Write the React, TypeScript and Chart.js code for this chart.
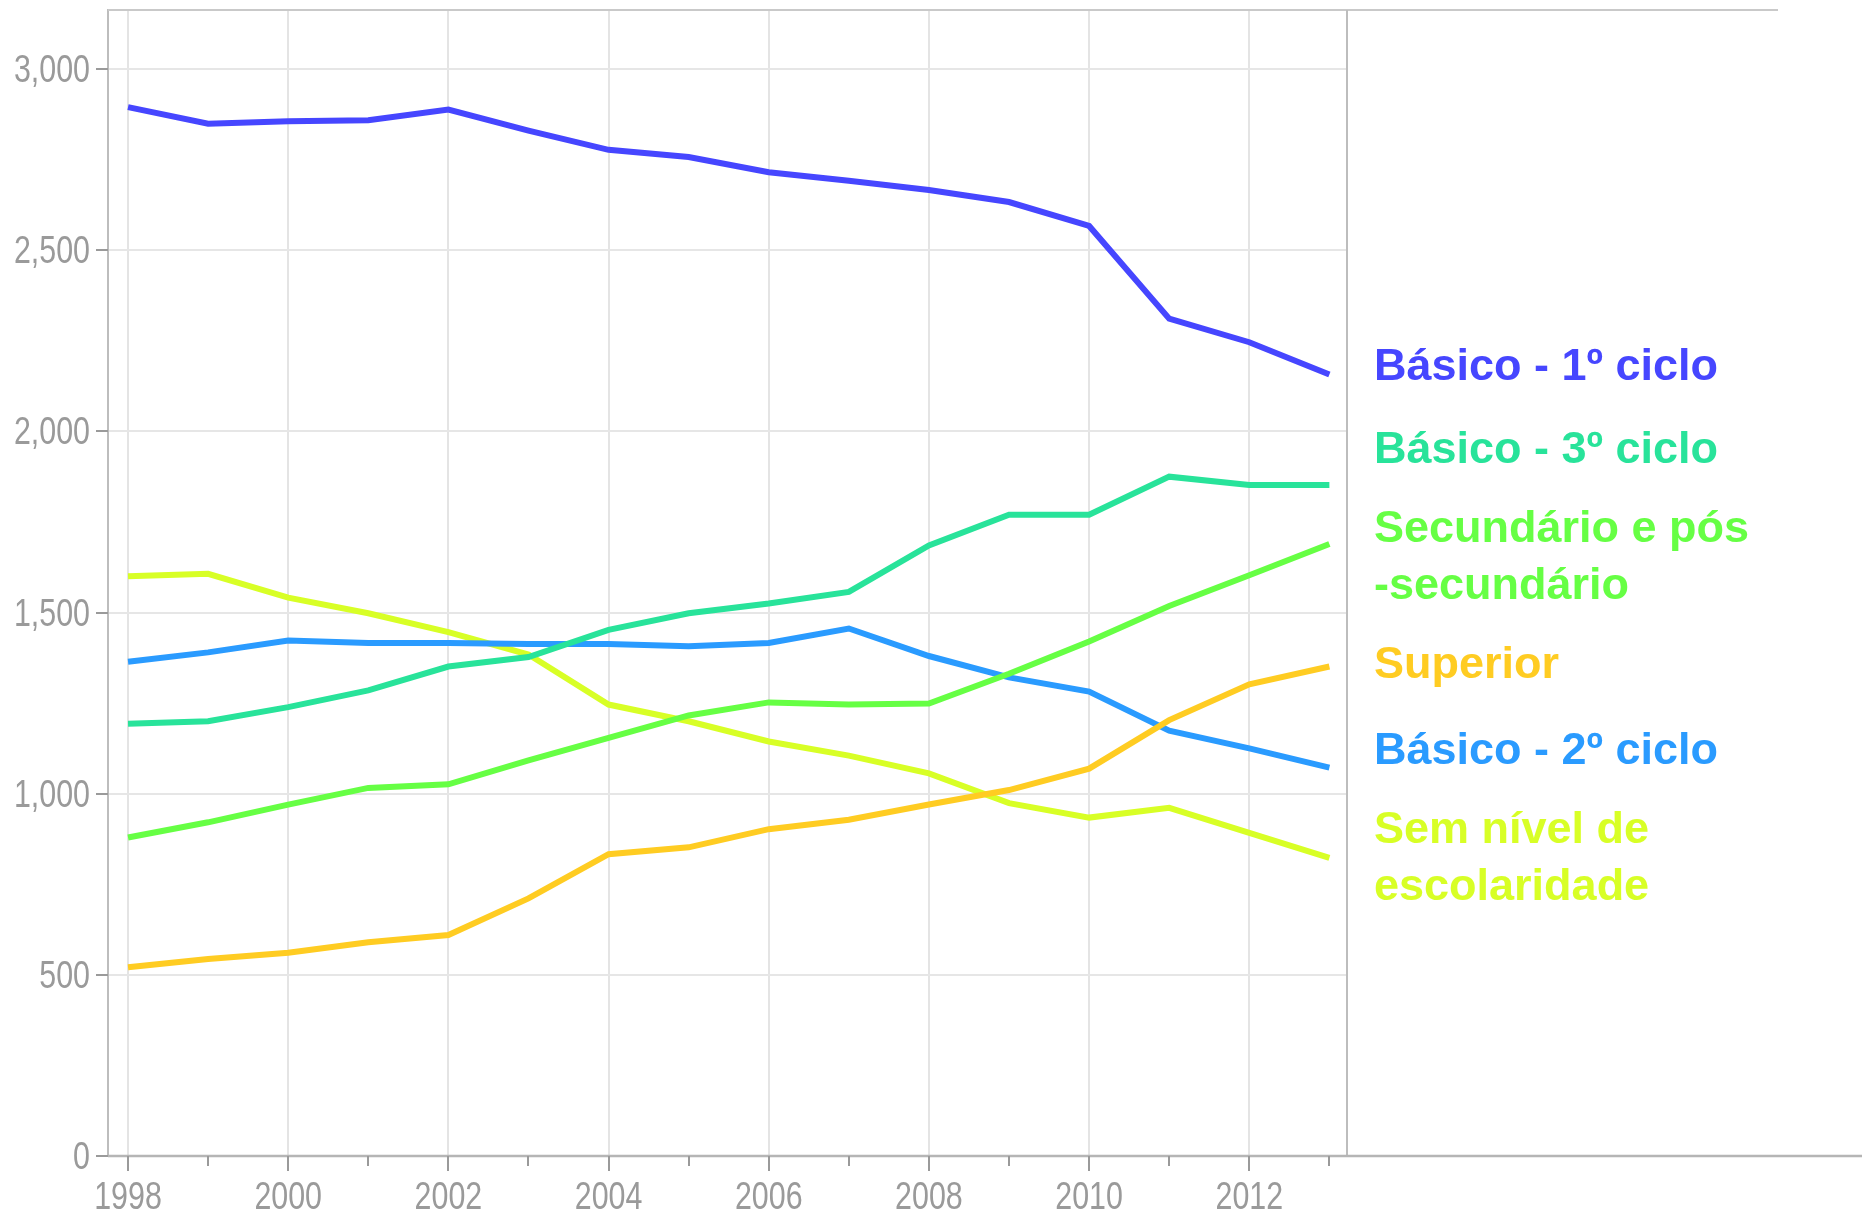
import React, { useEffect, useRef } from "react";
import { Chart, registerables } from "chart.js";

Chart.register(...registerables);

const years = [1998, 1999, 2000, 2001, 2002, 2003, 2004, 2005, 2006, 2007, 2008, 2009, 2010, 2011, 2012, 2013];

const basico1 = [2895, 2849, 2856, 2859, 2888, 2830, 2777, 2757, 2715, 2692, 2666, 2633, 2567, 2311, 2246, 2157];
const basico3 = [1193, 1200, 1239, 1285, 1351, 1377, 1452, 1498, 1525, 1557, 1685, 1770, 1770, 1875, 1852, 1852];
const secundario = [879, 921, 970, 1016, 1026, 1092, 1154, 1216, 1252, 1246, 1249, 1331, 1420, 1518, 1603, 1689];
const superior = [521, 544, 561, 590, 610, 711, 833, 852, 902, 928, 970, 1010, 1069, 1203, 1302, 1351];
const basico2 = [1364, 1390, 1423, 1416, 1416, 1413, 1413, 1407, 1416, 1456, 1380, 1321, 1282, 1174, 1125, 1072];
const semNivel = [1600, 1607, 1541, 1498, 1446, 1384, 1246, 1200, 1144, 1105, 1056, 974, 934, 961, 892, 823];

const seriesNames = [
  "Básico - 1º ciclo",
  "Básico - 3º ciclo",
  "Secundário e pós-secundário",
  "Superior",
  "Básico - 2º ciclo",
  "Sem nível de escolaridade",
];
const seriesLabelLines = [
  ["Básico - 1º ciclo"],
  ["Básico - 3º ciclo"],
  ["Secundário e pós", "-secundário"],
  ["Superior"],
  ["Básico - 2º ciclo"],
  ["Sem nível de", "escolaridade"],
];
const seriesValues = [basico1, basico3, secundario, superior, basico2, semNivel];
const seriesColors = ["#4646ff", "#28e39a", "#66ff44", "#ffcc22", "#2a9bff", "#d8ff26"];

const yTicks = [0, 500, 1000, 1500, 2000, 2500, 3000];
const xLabelYears = [1998, 2000, 2002, 2004, 2006, 2008, 2010, 2012];

const W = 1862;
const H = 1215;

export default function App() {
  const ref = useRef<HTMLCanvasElement | null>(null);

  useEffect(() => {
    const canvas = ref.current;
    if (!canvas) return;

    const drawNarrow = (ctx: any, text: string, x: number, y: number, align: string) => {
      const sx = 0.8;
      ctx.save();
      ctx.translate(x, y);
      ctx.scale(sx, 1);
      ctx.textAlign = align;
      ctx.fillText(text, 0, 0);
      ctx.restore();
    };

    const decorPlugin = {
      id: "decor",
      beforeDatasetsDraw(chart: any) {
        const { ctx, chartArea } = chart;
        const xs = chart.scales.x;
        const ys = chart.scales.y;
        ctx.save();
        ctx.lineCap = "butt";
        ctx.strokeStyle = "#c9c9c9";
        ctx.lineWidth = 2;
        ctx.beginPath();
        ctx.moveTo(chartArea.left, chartArea.top);
        ctx.lineTo(1778, chartArea.top);
        ctx.stroke();
        ctx.strokeStyle = "#bdbdbd";
        ctx.beginPath();
        ctx.moveTo(chartArea.right, chartArea.top);
        ctx.lineTo(chartArea.right, chartArea.bottom);
        ctx.stroke();
        ctx.strokeStyle = "#b5b5b5";
        ctx.lineWidth = 2.5;
        ctx.beginPath();
        ctx.moveTo(chartArea.left, chartArea.bottom);
        ctx.lineTo(W, chartArea.bottom);
        ctx.stroke();
        ctx.strokeStyle = "#9a9a9a";
        ctx.lineWidth = 2;
        years.forEach((yr) => {
          const px = Math.round(xs.getPixelForValue(yr));
          const len = yr % 2 === 0 ? 15 : 10;
          ctx.beginPath();
          ctx.moveTo(px, chartArea.bottom);
          ctx.lineTo(px, chartArea.bottom + len);
          ctx.stroke();
        });
        yTicks.forEach((v) => {
          const py = Math.round(ys.getPixelForValue(v));
          ctx.beginPath();
          ctx.moveTo(chartArea.left - 12, py);
          ctx.lineTo(chartArea.left, py);
          ctx.stroke();
        });
        ctx.fillStyle = "#9a9a9a";
        ctx.font = "38px 'Liberation Sans', Arial, sans-serif";
        ctx.textBaseline = "alphabetic";
        yTicks.forEach((v) => {
          const py = ys.getPixelForValue(v);
          drawNarrow(ctx, v.toLocaleString("en-US"), chartArea.left - 18, py + 13, "right");
        });
        xLabelYears.forEach((yr) => {
          const px = xs.getPixelForValue(yr);
          drawNarrow(ctx, String(yr), px, 1209, "center");
        });
        ctx.restore();
      },
      afterDatasetsDraw(chart: any) {
        const { ctx, chartArea } = chart;
        const ys = chart.scales.y;
        const lineH = 57;
        const gap = 22;
        const items = seriesValues.map((vals, i) => {
          const lines = seriesLabelLines[i];
          return {
            i,
            lines,
            h: lines.length * lineH + gap,
            target: ys.getPixelForValue(vals[vals.length - 1]),
          };
        });
        items.sort((a, b) => a.target - b.target);
        type Cl = { items: typeof items; top: number; height: number };
        const clusters: Cl[] = [];
        const fit = (c: Cl) => {
          let off = 0;
          let sum = 0;
          c.items.forEach((it) => {
            sum += it.target - off - it.h / 2;
            off += it.h;
          });
          c.height = off;
          c.top = sum / c.items.length;
        };
        items.forEach((it) => {
          const c: Cl = { items: [it], top: 0, height: 0 };
          fit(c);
          clusters.push(c);
          while (clusters.length > 1) {
            const a = clusters[clusters.length - 2];
            const b = clusters[clusters.length - 1];
            if (a.top + a.height > b.top) {
              const m: Cl = { items: [...a.items, ...b.items], top: 0, height: 0 };
              fit(m);
              clusters.splice(clusters.length - 2, 2, m);
            } else break;
          }
        });
        ctx.save();
        ctx.font = "bold 45px 'Liberation Sans', Arial, sans-serif";
        ctx.textAlign = "left";
        ctx.textBaseline = "middle";
        const x = chartArea.right + 27;
        const visualShift = -7;
        clusters.forEach((c) => {
          let off = c.top;
          c.items.forEach((it) => {
            const center = off + it.h / 2;
            ctx.fillStyle = seriesColors[it.i];
            const n = it.lines.length;
            it.lines.forEach((ln, k) => {
              const yy = center + (k - (n - 1) / 2) * lineH + visualShift;
              ctx.fillText(ln, x, yy);
            });
            off += it.h;
          });
        });
        ctx.restore();
      },
    };

    const chart = new Chart(canvas, {
      type: "line",
      data: {
        datasets: seriesValues.map((vals, i) => ({
          label: seriesNames[i],
          data: vals.map((v, k) => ({ x: years[k], y: v })),
          borderColor: seriesColors[i],
          backgroundColor: seriesColors[i],
          borderWidth: 6,
          pointRadius: 0,
          tension: 0,
          fill: false,
        })),
      },
      options: {
        animation: false,
        responsive: false,
        devicePixelRatio: 1,
        layout: { padding: { left: 0, right: W - 1347, top: 10, bottom: 0 } },
        plugins: {
          legend: { display: false },
          tooltip: { enabled: false },
          title: { display: false },
        },
        scales: {
          x: {
            type: "linear",
            min: 1997.75,
            max: 2013.22,
            afterBuildTicks(scale: any) {
              scale.ticks = years.map((v) => ({ value: v }));
            },
            afterFit(scale: any) {
              scale.height = H - 1156;
              scale.paddingLeft = 0;
              scale.paddingRight = 0;
            },
            ticks: { display: false },
            grid: {
              drawTicks: false,
              color: (c: any) => (c.tick && c.tick.value % 2 === 0 ? "#e4e4e4" : "rgba(0,0,0,0)"),
              lineWidth: 2,
            },
            border: { display: true, color: "#bdbdbd", width: 2 },
          },
          y: {
            type: "linear",
            min: 0,
            max: 3163,
            afterBuildTicks(scale: any) {
              scale.ticks = yTicks.map((v) => ({ value: v }));
            },
            afterFit(scale: any) {
              scale.width = 108;
              scale.paddingTop = 0;
              scale.paddingBottom = 0;
            },
            ticks: { display: false },
            grid: {
              drawTicks: false,
              color: "#e6e6e6",
              lineWidth: 2,
            },
            border: { display: true, color: "#bdbdbd", width: 2 },
          },
        },
      },
      plugins: [decorPlugin],
    });

    return () => chart.destroy();
  }, []);

  return (
    <div style={{ position: "absolute", left: 0, top: 0, width: W, height: H, background: "#ffffff" }}>
      <canvas ref={ref} width={W} height={H} style={{ width: W, height: H, display: "block" }} />
    </div>
  );
}
